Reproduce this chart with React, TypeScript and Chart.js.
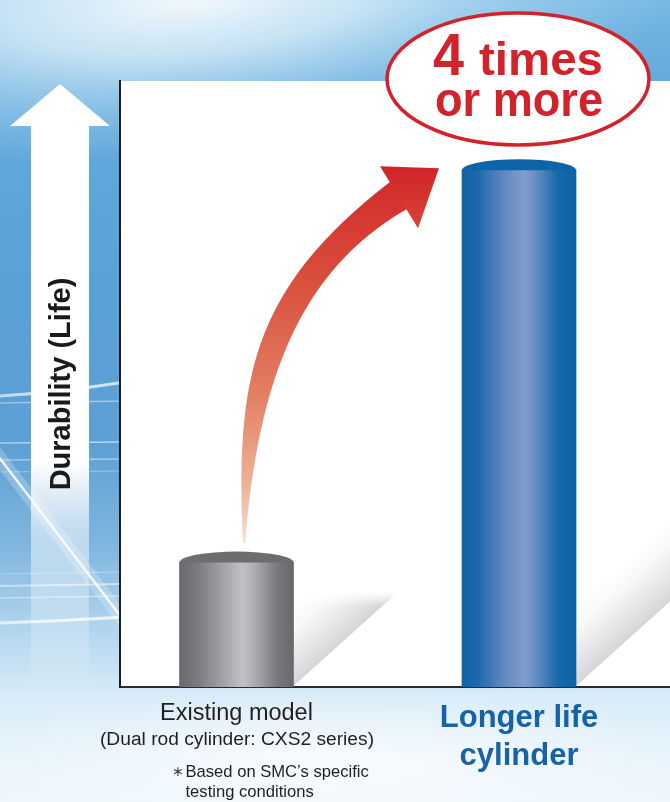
import React, { useEffect, useRef } from 'react';
import { Chart, registerables } from 'chart.js';

Chart.register(...registerables);

// ---- data ----
const categories = ['Existing model', 'Longer life cylinder'];
const values = [1, 4.14];
const yMax = 4.85;
const axisTitle = 'Durability (Life)';
const existingLines = ['Existing model', '(Dual rod cylinder: CXS2 series)'];
const noteMark = '\u2217';
const noteLines = ['Based on SMC\u2019s specific', 'testing conditions'];
const longerLines = ['Longer life', 'cylinder'];
const badgeNumber = '4';
const badgeWord = 'times';
const badgeLine2 = 'or more';

// ---- styles ----
const FONT = '"Liberation Sans", Arial, Helvetica, sans-serif';
const BAR_W = 114;
const CAP_RY = 11;
const capColors = ['#6c6d70', '#0e64a6'];
const bodyStops: [number, string][][] = [
  [[0, '#68696c'], [0.18, '#7d7e81'], [0.55, '#c1c2c6'], [0.63, '#b2b3b7'], [0.86, '#78797c'], [1, '#67686b']],
  [[0, '#0d63a6'], [0.13, '#1a69ab'], [0.33, '#5784bf'], [0.55, '#819fcb'], [0.72, '#4a80bc'], [0.84, '#1669aa'], [1, '#0c62a4']],
];
const RED = '#d2232a';
const BLUE_TEXT = '#1763a8';

function bodyGradient(c: any) {
  const chart = c.chart;
  const xs = chart.scales && chart.scales.x;
  if (!xs || !chart.chartArea || c.dataIndex === undefined) return '#888';
  const cx = xs.getPixelForValue(c.dataIndex);
  const g = chart.ctx.createLinearGradient(cx - BAR_W / 2, 0, cx + BAR_W / 2, 0);
  bodyStops[c.dataIndex].forEach(([o, col]) => g.addColorStop(o, col));
  return g;
}

function streak(ctx: CanvasRenderingContext2D, x1: number, y1: number, x2: number, y2: number, w: number, a: number, cy?: number) {
  ctx.save();
  const g = ctx.createLinearGradient(x1, y1, x2, y2);
  g.addColorStop(0, `rgba(255,255,255,${a * 0.8})`);
  g.addColorStop(0.6, `rgba(255,255,255,${a})`);
  g.addColorStop(1, `rgba(255,255,255,${a * 0.9})`);
  ctx.strokeStyle = g;
  ctx.lineWidth = w;
  ctx.beginPath();
  ctx.moveTo(x1, y1);
  if (cy !== undefined) ctx.quadraticCurveTo((x1 + x2) / 2, cy, x2, y2);
  else ctx.lineTo(x2, y2);
  ctx.stroke();
  ctx.restore();
}

const bgPlugin = {
  id: 'bg',
  beforeDraw(chart: any) {
    const { ctx, width: W, height: H, chartArea: ca } = chart;
    ctx.save();
    const g = ctx.createLinearGradient(0, 0, 0, H);
    g.addColorStop(0, '#76b8e3');
    g.addColorStop(0.1, '#64aadc');
    g.addColorStop(0.35, '#59a1d7');
    g.addColorStop(0.55, '#5d9fd4');
    g.addColorStop(0.68, '#80b6df');
    g.addColorStop(0.78, '#b0d4ee');
    g.addColorStop(0.87, '#d8ecf8');
    g.addColorStop(1, '#eef7fc');
    ctx.fillStyle = g;
    ctx.fillRect(0, 0, W, H);

    // top glow
    ctx.save();
    ctx.translate(190, 0);
    ctx.rotate(-0.1);
    ctx.scale(2.0, 0.6);
    const r = ctx.createRadialGradient(0, 0, 0, 0, 0, 260);
    r.addColorStop(0, 'rgba(255,255,255,0.9)');
    r.addColorStop(0.35, 'rgba(235,247,253,0.7)');
    r.addColorStop(0.7, 'rgba(205,233,249,0.3)');
    r.addColorStop(1, 'rgba(205,233,249,0)');
    ctx.fillStyle = r;
    ctx.fillRect(-300, -300, 600, 600);
    ctx.restore();

    // bottom soft wisps
    ctx.save();
    ctx.translate(330, 760);
    ctx.scale(3, 0.5);
    const r2 = ctx.createRadialGradient(0, 0, 0, 0, 0, 140);
    r2.addColorStop(0, 'rgba(255,255,255,0.7)');
    r2.addColorStop(1, 'rgba(255,255,255,0)');
    ctx.fillStyle = r2;
    ctx.fillRect(-200, -200, 400, 400);
    ctx.restore();

    // streaks on the left
    streak(ctx, 0, 396, 125, 382, 3, 0.75, 392);
    streak(ctx, 0, 403, 125, 401, 1.4, 0.45);
    streak(ctx, 0, 443, 125, 442, 1.6, 0.6);
    streak(ctx, 0, 460, 125, 459, 1.4, 0.45);
    streak(ctx, 0, 472, 125, 471, 1.2, 0.35);
    streak(ctx, 0, 574, 125, 572, 1.2, 0.35);
    streak(ctx, 0, 586, 125, 584, 1.8, 0.55);
    streak(ctx, 0, 598, 125, 596, 1.4, 0.45);
    streak(ctx, 0, 623, 125, 617, 3, 0.8, 621);
    // diagonal beam
    ctx.save();
    ctx.strokeStyle = 'rgba(255,255,255,0.22)';
    ctx.lineWidth = 14;
    ctx.beginPath();
    ctx.moveTo(-5, 452);
    ctx.lineTo(125, 622);
    ctx.stroke();
    ctx.strokeStyle = 'rgba(255,255,255,0.85)';
    ctx.lineWidth = 2.5;
    ctx.beginPath();
    ctx.moveTo(-5, 452);
    ctx.lineTo(125, 622);
    ctx.stroke();
    ctx.restore();

    // white up arrow (axis indicator)
    const sg = ctx.createLinearGradient(0, 126, 0, 685);
    sg.addColorStop(0, 'rgba(255,255,255,1)');
    sg.addColorStop(0.6, 'rgba(255,255,255,1)');
    sg.addColorStop(0.72, 'rgba(255,255,255,0.55)');
    sg.addColorStop(0.85, 'rgba(255,255,255,0.3)');
    sg.addColorStop(1, 'rgba(255,255,255,0.08)');
    ctx.fillStyle = sg;
    ctx.fillRect(31, 125, 58, 560);
    ctx.fillStyle = '#ffffff';
    ctx.beginPath();
    ctx.moveTo(60, 84);
    ctx.lineTo(110, 126);
    ctx.lineTo(10, 126);
    ctx.closePath();
    ctx.fill();

    // white plot area
    ctx.fillStyle = '#ffffff';
    ctx.fillRect(ca.left, ca.top, W - ca.left, ca.bottom - ca.top);
    ctx.restore();
  },
};

const shadowPlugin = {
  id: 'shadows',
  beforeDatasetsDraw(chart: any) {
    const { ctx, width: W, chartArea: ca } = chart;
    const meta = chart.getDatasetMeta(0);
    const k = 0.9;
    const nl = Math.sqrt(1 + k * k);
    meta.data.forEach((el: any) => {
      const { x, y, width } = el.getProps(['x', 'y', 'width'], true);
      const R = x + width / 2;
      const B = ca.bottom - 1;
      const top = y + 30;
      const d = 68;
      const g = ctx.createLinearGradient(R, B, R - (k / nl) * d, B - (1 / nl) * d);
      g.addColorStop(0, 'rgba(205,206,209,0.85)');
      g.addColorStop(0.35, 'rgba(218,219,221,0.6)');
      g.addColorStop(1, 'rgba(255,255,255,0)');
      // draw in horizontal slices so the top edge fades softly
      const fade = 14;
      const slices = 14;
      for (let s = 0; s <= slices; s++) {
        const y0 = s === slices ? top + fade : top + (s * fade) / slices;
        const y1 = s === slices ? B : top + ((s + 1) * fade) / slices;
        ctx.save();
        ctx.globalAlpha = s === slices ? 1 : (s + 0.5) / slices;
        ctx.beginPath();
        ctx.rect(R, y0, W - R, y1 - y0);
        ctx.clip();
        ctx.fillStyle = g;
        ctx.beginPath();
        ctx.moveTo(R, B);
        ctx.lineTo(R + 900, B - 900 * k);
        ctx.lineTo(R, B - 900 * k);
        ctx.closePath();
        ctx.fill();
        ctx.restore();
      }
    });
  },
};

const capPlugin = {
  id: 'caps',
  afterDatasetsDraw(chart: any) {
    const { ctx } = chart;
    const meta = chart.getDatasetMeta(0);
    meta.data.forEach((el: any, i: number) => {
      const { x, y, width } = el.getProps(['x', 'y', 'width'], true);
      ctx.save();
      ctx.beginPath();
      ctx.ellipse(x, y + 0.5, width / 2, CAP_RY, 0, Math.PI, 2 * Math.PI);
      ctx.closePath();
      ctx.fillStyle = capColors[i];
      ctx.fill();
      ctx.restore();
    });
  },
};

function fitText(ctx: CanvasRenderingContext2D, text: string, x: number, y: number, targetW: number) {
  const w = ctx.measureText(text).width;
  const s = targetW / w;
  ctx.save();
  ctx.translate(x, y);
  ctx.scale(s, 1);
  ctx.fillText(text, 0, 0);
  ctx.restore();
}

const overlayPlugin = {
  id: 'overlay',
  afterDraw(chart: any) {
    const { ctx, chartArea: ca } = chart;
    const meta = chart.getDatasetMeta(0);
    const e0 = meta.data[0].getProps(['x', 'y', 'width'], true);
    const e1 = meta.data[1].getProps(['x', 'y', 'width'], true);

    // ---- red curved arrow ----
    const tx = e0.x + 6.5, ty = e0.y - 19;
    const px = e1.x - e1.width / 2 - 23, py = e1.y - 1.5;
    const dx = px - tx, dy = py - ty;
    const P = (u: number, v: number): [number, number] => [tx + u * dx, ty + v * dy];
    ctx.save();
    const ag = ctx.createLinearGradient(0, py, 0, ty);
    ag.addColorStop(0, '#d3262b');
    ag.addColorStop(0.3, '#d94f3c');
    ag.addColorStop(0.6, '#e27f62');
    ag.addColorStop(0.85, '#edb39b');
    ag.addColorStop(1, '#f8e0d6');
    ctx.fillStyle = ag;
    ctx.beginPath();
    let p = P(0, 0); ctx.moveTo(p[0], p[1]);
    const l1 = P(-0.036, 0.435), l2 = P(0.036, 0.675), l3 = P(0.75, 0.963);
    ctx.bezierCurveTo(l1[0], l1[1], l2[0], l2[1], l3[0], l3[1]);
    p = P(0.837, 0.891); ctx.lineTo(p[0], p[1]);
    const r1 = P(0.291, 0.728), r2 = P(0.077, 0.435), r3 = P(0.012, 0);
    ctx.bezierCurveTo(r1[0], r1[1], r2[0], r2[1], r3[0], r3[1]);
    ctx.closePath();
    ctx.fill();
    const hg = ctx.createLinearGradient(0, py - 2, 0, py + 60);
    hg.addColorStop(0, '#d2232a');
    hg.addColorStop(1, '#d74435');
    ctx.fillStyle = hg;
    ctx.beginPath();
    p = P(0.699, 1.005); ctx.moveTo(p[0], p[1]);
    p = P(1, 1); ctx.lineTo(p[0], p[1]);
    p = P(0.893, 0.84); ctx.lineTo(p[0], p[1]);
    ctx.closePath();
    ctx.fill();
    ctx.restore();

    // ---- badge ----
    const bx = e1.x - 1, by = ca.top - 2;
    ctx.save();
    ctx.beginPath();
    ctx.ellipse(bx, by, 131, 66, 0, 0, 2 * Math.PI);
    ctx.fillStyle = '#ffffff';
    ctx.fill();
    ctx.lineWidth = 3.5;
    ctx.strokeStyle = RED;
    ctx.stroke();
    ctx.fillStyle = RED;
    ctx.textBaseline = 'alphabetic';
    ctx.textAlign = 'left';
    ctx.font = `bold 59px ${FONT}`;
    fitText(ctx, badgeNumber, bx - 85, by - 4, 31);
    ctx.font = `bold 46px ${FONT}`;
    fitText(ctx, badgeWord, bx - 39, by - 4, 124);
    ctx.font = `bold 49px ${FONT}`;
    fitText(ctx, badgeLine2, bx - 83, by + 37, 168);
    ctx.restore();

    // ---- category labels ----
    const xs = chart.scales.x;
    const gx = xs.getPixelForValue(0);
    const lx = xs.getPixelForValue(1);
    const b = ca.bottom;
    ctx.save();
    ctx.textAlign = 'center';
    ctx.textBaseline = 'alphabetic';
    ctx.fillStyle = '#231f20';
    ctx.font = `23.5px ${FONT}`;
    ctx.fillText(existingLines[0], gx, b + 33);
    ctx.font = `19.2px ${FONT}`;
    ctx.fillText(existingLines[1], gx + 0.5, b + 58);
    ctx.textAlign = 'left';
    ctx.fillStyle = '#444';
    ctx.font = `14px ${FONT}`;
    ctx.fillText(noteMark, gx - 65, b + 89);
    ctx.fillStyle = '#231f20';
    ctx.font = `16.6px ${FONT}`;
    ctx.fillText(noteLines[0], gx - 51, b + 90);
    ctx.fillText(noteLines[1], gx - 51, b + 110);

    ctx.textAlign = 'center';
    ctx.fillStyle = BLUE_TEXT;
    ctx.font = `bold 31px ${FONT}`;
    ctx.fillText(longerLines[0], lx, b + 40);
    ctx.fillText(longerLines[1], lx, b + 78);
    ctx.restore();
  },
};

export default function App() {
  const ref = useRef<HTMLCanvasElement | null>(null);
  useEffect(() => {
    const canvas = ref.current;
    if (!canvas) return;
    const chart = new Chart(canvas, {
      type: 'bar',
      data: {
        labels: categories,
        datasets: [
          {
            label: axisTitle,
            data: values.map((v, i) => ({ x: i, y: v })) as any,
            backgroundColor: bodyGradient as any,
            barThickness: BAR_W,
            borderWidth: 0,
          },
        ],
      },
      options: {
        animation: false,
        responsive: false,
        devicePixelRatio: 1,
        layout: { padding: { left: 0, right: 0, top: 81, bottom: 115 } },
        plugins: { legend: { display: false }, tooltip: { enabled: false } },
        scales: {
          x: {
            type: 'linear',
            offset: false,
            min: -0.4124,
            max: 1.5345,
            grid: { display: false, drawTicks: false, offset: false },
            ticks: { display: false },
            border: { display: true, color: '#2b2b2b', width: 2 },
          },
          y: {
            min: 0,
            max: yMax,
            grid: { display: false, drawTicks: false },
            ticks: { display: false },
            border: { display: true, color: '#1e1e1e', width: 2 },
            title: {
              display: true,
              text: axisTitle,
              color: '#1a1a1a',
              font: { family: FONT, size: 29, weight: 'bold' },
              padding: { top: 44.6, bottom: 40.6 },
            },
          },
        },
      } as any,
      plugins: [bgPlugin, shadowPlugin, capPlugin, overlayPlugin],
    });
    return () => chart.destroy();
  }, []);

  return (
    <div style={{ position: 'absolute', left: 0, top: 0, width: 670, height: 802 }}>
      <canvas ref={ref} width={670} height={802} style={{ width: 670, height: 802, display: 'block' }} />
    </div>
  );
}
